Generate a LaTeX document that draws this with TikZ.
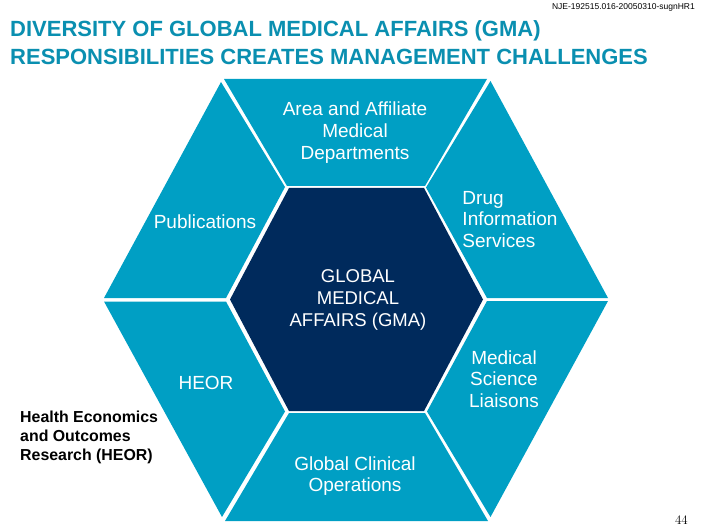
\documentclass[tikz,border=0pt]{standalone}
\usepackage{fontspec}
\setmainfont{Liberation Sans}
\usetikzlibrary{positioning}
\definecolor{gmateal}{HTML}{009FC4}
\definecolor{gmanavy}{HTML}{002A5C}
\definecolor{gmatitle}{HTML}{0A8FB0}
\tikzset
{
	panel/.style = {fill=gmateal, draw=none},
	hub/.style = {fill=gmanavy, draw=none},
	paneltext/.style = {align=center, text=white, font=\fontsize{19}{21.7}\selectfont, inner sep=0pt},
	hubtext/.style = {align=center, text=white, font=\fontsize{18.5}{21.7}\selectfont, inner sep=0pt},
	titletext/.style = {align=left, anchor=north west, text=gmatitle, font=\bfseries\fontsize{22}{28}\selectfont, inner sep=0pt},
	notetext/.style = {align=left, anchor=north west, text=black, font=\bfseries\fontsize{15.9}{19}\selectfont, inner sep=0pt}
}
\begin{document}
\begin{tikzpicture}[x=1pt, y=-1pt]
\useasboundingbox (0,0) rectangle (706,529);
% outer panels
\fill[panel] (224,79) -- (487,79) -- (425,186) -- (287,186) -- cycle;
\fill[panel] (221,82) -- (285,187) -- (226,298) -- (104,298) -- cycle;
\fill[panel] (490.5,81) -- (426,187.5) -- (487,298) -- (608,298) -- cycle;
\fill[panel] (104,301.5) -- (226,301.5) -- (285,411.5) -- (222,517) -- cycle;
\fill[panel] (608,301) -- (487,301) -- (427,411.5) -- (490.5,517) -- cycle;
\fill[panel] (289,413) -- (425,413) -- (488,521) -- (225,521) -- cycle;
% centre
\fill[hub] (289,188) -- (424,188) -- (483,299.5) -- (424,411) -- (289,411) -- (230,299.5) -- cycle;
% labels
\node[titletext] (title) at (10,20) {DIVERSITY OF GLOBAL MEDICAL AFFAIRS (GMA)\\RESPONSIBILITIES CREATES MANAGEMENT CHALLENGES};
\node[anchor=north east, inner sep=0pt, font=\fontsize{8.5}{10}\selectfont] (docref) at (695,3) {NJE-192515.016-20050310-sugnHR1};
\node[paneltext] (area) at (355,132.5) {Area and Affiliate\\Medical\\Departments};
\node[paneltext] (pubs) at (205,222) {Publications};
\node[paneltext, align=left] (drug) at (510,219.5) {Drug\\Information\\Services};
\node[hubtext] (gma) at (358,300) {GLOBAL\\MEDICAL\\AFFAIRS (GMA)};
\node[paneltext] (heor) at (206,383) {HEOR};
\node[paneltext] (msl) at (504,379) {Medical\\Science\\Liaisons};
\node[paneltext] (gco) at (355,476) {Global Clinical\\Operations};
\node[notetext] (note) at (20,411) {Health Economics\\and Outcomes\\Research (HEOR)};
\node[anchor=base east, inner sep=0pt, font=\fontfamily{lmr}\fontsize{13}{15}\selectfont] (pageno) at (688,524) {44};
\end{tikzpicture}
\end{document}
